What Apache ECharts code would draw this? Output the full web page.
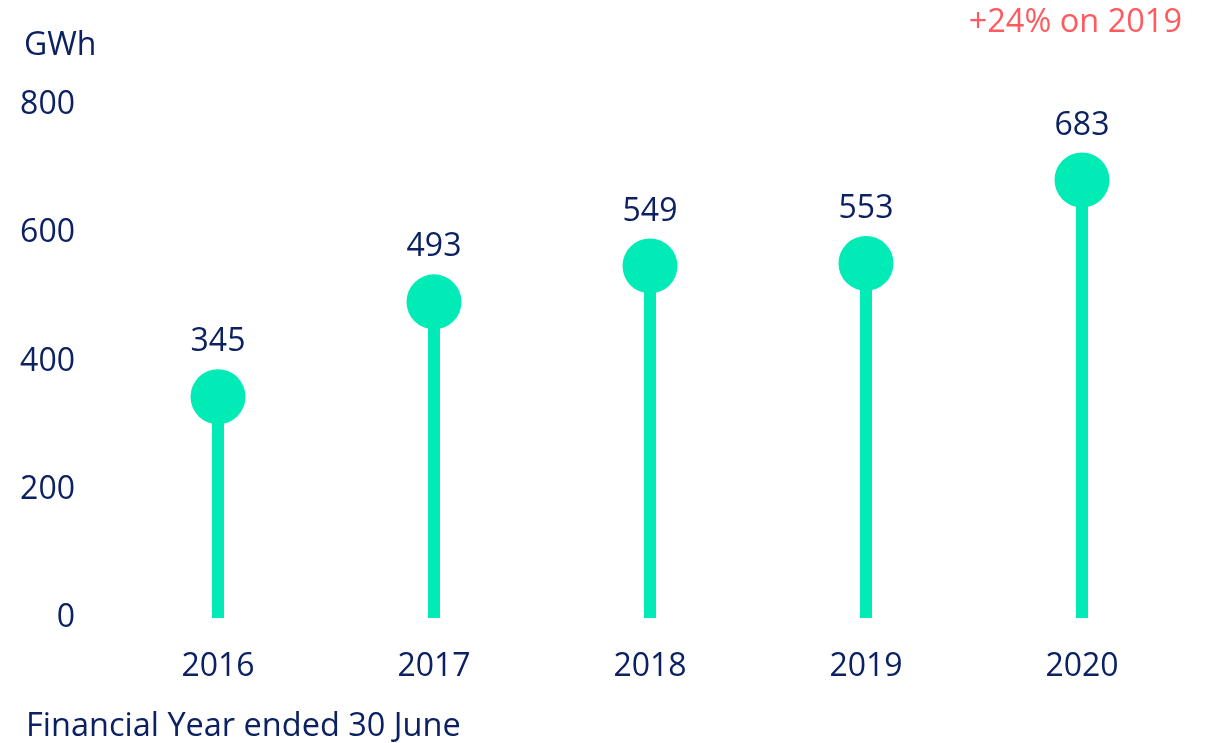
<!DOCTYPE html>
<html><head><meta charset="utf-8">
<script src="https://cdn.jsdelivr.net/npm/echarts@6/dist/echarts.min.js"></script>
<style>html,body{margin:0;padding:0;background:#fff}#c{width:1209px;height:743px}</style>
</head><body><div id="c"></div>
<script>
const categories = ['2016','2017','2018','2019','2020'];
const values = [345, 493, 549, 553, 683];
const yTicks = [0, 200, 400, 600, 800];
const unitLabel = 'GWh';
const noteText = '+24% on 2019';
const xAxisTitle = 'Financial Year ended 30 June';

const NAVY = '#0B2161';
const GREEN = '#00EBB6';
const FONT = 'Open Sans';
const chart = echarts.init(document.getElementById('c'));
chart.setOption({
  animation: false,
  grid: {left: 110, right: 19, top: 105, bottom: 125},
  xAxis: {
    type: 'category', data: categories,
    axisLine: {show: false}, axisTick: {show: false},
    axisLabel: {color: NAVY, fontFamily: FONT, fontSize: 32, margin: 33}
  },
  yAxis: {
    type: 'value', min: yTicks[0], max: yTicks[yTicks.length-1], interval: 200,
    splitLine: {show: false}, axisLine: {show: false}, axisTick: {show: false},
    axisLabel: {color: NAVY, fontFamily: FONT, fontSize: 32, margin: 35}
  },
  series: [
    {type: 'bar', data: values, barWidth: 12, itemStyle: {color: GREEN}, silent: true, z: 2},
    {type: 'scatter', data: values, symbol: 'circle', symbolSize: 55, z: 5,
     itemStyle: {color: GREEN, opacity: 1},
     label: {show: true, position: 'top', distance: 11, color: NAVY, fontFamily: FONT, fontSize: 32}}
  ],
  graphic: [
    {type: 'text', left: 24, top: 30, style: {text: unitLabel, fill: NAVY, font: '32px "Open Sans"'}},
    {type: 'text', right: 27, top: 6, style: {text: noteText, fill: '#FF5A5F', font: '32.5px "Open Sans"'}},
    {type: 'text', left: 26, top: 710, style: {text: xAxisTitle, fill: NAVY, font: '32.5px "Open Sans"'}}
  ]
});
</script></body></html>
